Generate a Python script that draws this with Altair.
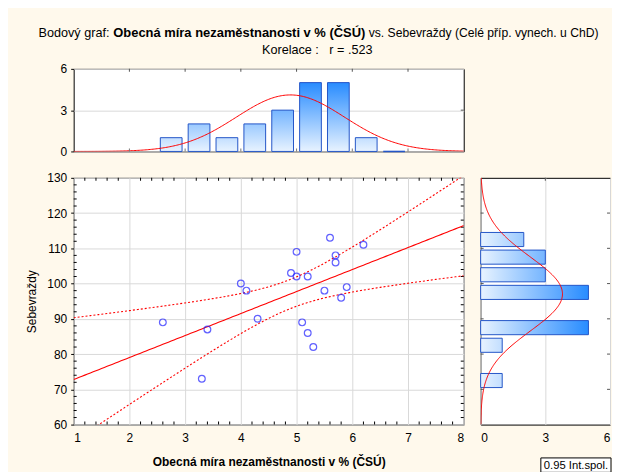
import numpy as np
import pandas as pd
import altair as alt

# ---------------- data ----------------
unemployment = [2.6, 3.3, 3.4, 4.0, 4.1, 4.3, 4.9, 5.0, 5.0, 5.1,
                5.2, 5.2, 5.3, 5.5, 5.6, 5.7, 5.7, 5.8, 5.9, 6.2]
suicides = [89, 73, 87, 100, 98, 90, 103, 109, 102, 89,
            102, 86, 82, 98, 113, 108, 106, 96, 99, 111]

x_bin_start = [2.5, 3.0, 3.5, 4.0, 4.5, 5.0, 5.5, 6.0, 6.5]
x_bin_count = [1, 2, 1, 2, 3, 5, 5, 1, 0]
y_bin_start = [70, 80, 85, 95, 100, 105, 110]
y_bin_count = [1, 1, 5, 5, 3, 3, 2]

x_ticks = [1, 2, 3, 4, 5, 6, 7, 8]
y_ticks = [60, 70, 80, 90, 100, 110, 120, 130]
hist_ticks = [0, 3, 6]
x_minor = [round(1 + 0.2 * i, 1) for i in range(1, 35) if i % 5]
y_minor = [v for v in range(62, 130, 2) if v % 10]

title_prefix = "Bodový graf: "
title_bold = "Obecná míra nezaměstnanosti v % (ČSÚ)"
title_suffix = "vs. Sebevraždy (Celé příp. vynech. u ChD)"
subtitle = "Korelace :   r = .523"
x_title = "Obecná míra nezaměstnanosti v % (ČSÚ)"
y_title = "Sebevraždy"
legend_label = "0.95 Int.spol."

# ---------------- fitted curves derived from the data ----------------
x = np.array(unemployment, dtype=float)
y = np.array(suicides, dtype=float)
n = len(x)
xm, ym = x.mean(), y.mean()
sx, sy = x.std(ddof=1), y.std(ddof=1)
sxx = ((x - xm) ** 2).sum()
b = ((x - xm) * (y - ym)).sum() / sxx
a = ym - b * xm
s = np.sqrt(((y - (a + b * x)) ** 2).sum() / (n - 2))
t975 = 2.1009

gx = np.linspace(1, 8, 141)
fit = a + b * gx
half = t975 * s * np.sqrt(1 / n + (gx - xm) ** 2 / sxx)
fit_df = pd.DataFrame({"gx": gx, "gy": fit})
band_df = pd.concat([
    pd.DataFrame({"gx": gx, "gy": fit + half, "band": "upper"}),
    pd.DataFrame({"gx": gx, "gy": fit - half, "band": "lower"}),
])

nx = np.linspace(1, 8, 281)
top_norm = pd.DataFrame({"gx": nx, "d": n * 0.5 * np.exp(-0.5 * ((nx - xm) / sx) ** 2) / (sx * np.sqrt(2 * np.pi))})
ny = np.linspace(60, 130, 281)
right_norm = pd.DataFrame({"gy": ny, "d": n * 5 * np.exp(-0.5 * ((ny - ym) / sy) ** 2) / (sy * np.sqrt(2 * np.pi))})

# ---------------- style ----------------
FONT = "Liberation Sans"
BG = "#FFF9EC"
GRID = "#D9D9D9"
RED = "#FF0000"
BAR_STROKE = "#2456C8"
LIGHT = (232, 243, 255)
DARK = (40, 140, 255)
NBSP = "\u00a0"

W, H_TOP, H, W_R = 392, 83, 248, 130


def shade(c):
    f = min(c / 5.0, 1.0)
    r, g, bb = [round(l + (d - l) * f) for l, d in zip(LIGHT, DARK)]
    return "#%02X%02X%02X" % (r, g, bb)


def grad(c, vertical):
    g = {"gradient": "linear",
         "stops": [{"offset": 0, "color": "#%02X%02X%02X" % LIGHT},
                   {"offset": 1, "color": shade(c)}]}
    if vertical:
        g.update({"x1": 0, "y1": 1, "x2": 0, "y2": 0})
    else:
        g.update({"x1": 0, "y1": 0, "x2": 1, "y2": 0})
    return g


xscale = alt.Scale(domain=[1, 8], nice=False, zero=False)
yscale = alt.Scale(domain=[60, 130], nice=False, zero=False)
hscale = alt.Scale(domain=[0, 6], nice=False)


def edge_ticks(values, channel, scale, axis, pos, color="black"):
    df = pd.DataFrame({"v": values})
    if channel == "y":
        return alt.Chart(df).mark_tick(orient="horizontal", size=3, thickness=1, color=color, opacity=1).encode(
            y=alt.Y("v:Q", scale=scale, axis=axis), x=alt.value(pos))
    return alt.Chart(df).mark_tick(orient="vertical", size=3, thickness=1, color=color, opacity=1).encode(
        x=alt.X("v:Q", scale=scale, axis=axis), y=alt.value(pos))


# ---------------- top histogram ----------------
top_x_axis = alt.Axis(values=x_ticks, labels=False, ticks=False, grid=False, title=None)
top_y_axis = alt.Axis(values=hist_ticks, grid=True, tickSize=3, labelPadding=4, title=None)

xh = pd.DataFrame({"start": x_bin_start, "n": x_bin_count})
top_base = alt.Chart(xh).transform_calculate(
    a="datum.start + 0.055", b="datum.start + 0.445", z="0")

top_layers = []
for c in sorted(set(x_bin_count)):
    if c == 0:
        top_layers.append(
            top_base.transform_filter(alt.datum.n == c).mark_rule(color=BAR_STROKE, strokeWidth=1.5).encode(
                x=alt.X("a:Q", scale=xscale, axis=top_x_axis), x2="b:Q",
                y=alt.Y("z:Q", scale=hscale, axis=top_y_axis)))
    else:
        top_layers.append(
            top_base.transform_filter(alt.datum.n == c).mark_rect(
                fill=grad(c, True), stroke=BAR_STROKE, strokeWidth=1).encode(
                x=alt.X("a:Q", scale=xscale, axis=top_x_axis), x2="b:Q",
                y=alt.Y("n:Q", scale=hscale, axis=top_y_axis), y2="z:Q"))

top_curve = alt.Chart(top_norm).mark_line(color=RED, strokeWidth=1, clip=True).encode(
    x=alt.X("gx:Q", scale=xscale, axis=top_x_axis),
    y=alt.Y("d:Q", scale=hscale, axis=top_y_axis))

top_frame_ticks = [
    edge_ticks(x_ticks[1:-1], "x", xscale, top_x_axis, 1.5, "#555555"),
    edge_ticks(x_ticks[1:-1], "x", xscale, top_x_axis, H_TOP - 1.5, "#777777"),
    edge_ticks([3], "y", hscale, top_y_axis, W - 1.5, "#555555"),
]


def txt(s, px, py, bold=False, align="left", size=12.7):
    return alt.Chart(pd.DataFrame({"t": [s.replace(" ", NBSP)]})).mark_text(
        align=align, baseline="middle", fontSize=size, font=FONT,
        fontWeight="bold" if bold else "normal", color="black").encode(
        text="t:N", x=alt.value(px), y=alt.value(py))


title_layers = [
    txt(title_prefix, -35.3, -36.3),
    txt(title_bold, 39.8, -36.3, bold=True, size=13.0),
    txt(title_suffix, 296.5, -36.3, size=12.2),
    txt(subtitle, 244.8, -19.3, align="center"),
]

top = alt.layer(*top_layers, top_curve, *top_frame_ticks, *title_layers).properties(width=W, height=H_TOP)

blank = alt.Chart(pd.DataFrame({"t": [""]})).mark_text().encode(
    text="t:N", x=alt.value(0), y=alt.value(0)).properties(
    width=W_R, height=H_TOP, view=alt.ViewBackground(fillOpacity=0, strokeOpacity=0))

# ---------------- scatter ----------------
sc_x_axis = alt.Axis(values=x_ticks, grid=True, tickSize=3, tickOpacity=0, labelPadding=5, format="d",
                     title=x_title, titleFontWeight="bold", titlePadding=13)
sc_y_axis = alt.Axis(values=y_ticks, grid=True, tickSize=3, labelPadding=4,
                     title=y_title, titleFontWeight="normal", titlePadding=8)

pts = pd.DataFrame({"x": unemployment, "y": suicides})
points = alt.Chart(pts).mark_point(shape="circle", filled=False, color="#2020FF",
                                   size=46, strokeWidth=1.2).encode(
    x=alt.X("x:Q", scale=xscale, axis=sc_x_axis),
    y=alt.Y("y:Q", scale=yscale, axis=sc_y_axis))
fit_line = alt.Chart(fit_df).mark_line(color=RED, strokeWidth=1.1, clip=True).encode(
    x=alt.X("gx:Q", scale=xscale, axis=sc_x_axis),
    y=alt.Y("gy:Q", scale=yscale, axis=sc_y_axis))
band_lines = alt.Chart(band_df).mark_line(color=RED, strokeWidth=1.1, strokeDash=[2, 2], clip=True).encode(
    x=alt.X("gx:Q", scale=xscale, axis=sc_x_axis),
    y=alt.Y("gy:Q", scale=yscale, axis=sc_y_axis),
    detail="band:N")

sc_frame_ticks = [
    edge_ticks(y_minor, "y", yscale, sc_y_axis, 1.5),
    edge_ticks(y_minor, "y", yscale, sc_y_axis, W - 1.5),
    edge_ticks(x_minor, "x", xscale, sc_x_axis, 1.5),
    edge_ticks(x_minor, "x", xscale, sc_x_axis, H - 1.5),
]

scatter = alt.layer(*sc_frame_ticks, band_lines, fit_line, points).properties(width=W, height=H)

# ---------------- right histogram ----------------
r_x_axis = alt.Axis(values=hist_ticks, grid=True, tickSize=3, tickOpacity=0, labelPadding=5, title=None)

yh = pd.DataFrame({"start": y_bin_start, "n": y_bin_count})
r_base = alt.Chart(yh).transform_calculate(a="datum.start + 0.5", b="datum.start + 4.5", z="0")
r_layers = []
for c in sorted(set(y_bin_count)):
    r_layers.append(
        r_base.transform_filter(alt.datum.n == c).mark_rect(
            fill=grad(c, False), stroke=BAR_STROKE, strokeWidth=1).encode(
            x=alt.X("n:Q", scale=hscale, axis=r_x_axis), x2="z:Q",
            y=alt.Y("a:Q", scale=yscale, axis=None), y2="b:Q"))

r_curve = alt.Chart(right_norm).mark_line(color=RED, strokeWidth=1, clip=True).encode(
    x=alt.X("d:Q", scale=hscale, axis=r_x_axis),
    y=alt.Y("gy:Q", scale=yscale, axis=None),
    order="gy:Q")

r_frame_ticks = [
    edge_ticks(y_ticks[1:-1], "y", yscale, None, 1.5, "#555555"),
    edge_ticks(y_ticks[1:-1], "y", yscale, None, W_R - 1.5, "#555555"),
    edge_ticks([3], "x", hscale, r_x_axis, 1.5, "#555555"),
]

leg_df = pd.DataFrame({"t": [legend_label]})
leg_box = alt.Chart(leg_df).mark_rect(fill="white", stroke="black", strokeWidth=1).encode(
    x=alt.value(60.5), x2=alt.value(131), y=alt.value(281.5), y2=alt.value(296))
leg_text = alt.Chart(leg_df).mark_text(align="left", baseline="middle", fontSize=11.3,
                                       font=FONT, color="black").encode(
    text="t:N", x=alt.value(63.5), y=alt.value(289.5))

right = alt.layer(*r_layers, r_curve, *r_frame_ticks, leg_box, leg_text).properties(width=W_R, height=H)

chart = alt.concat(top, blank, scatter, right, columns=2,
                   spacing={"row": 26.5, "column": 17}, bounds="flush").properties(
    background=BG,
    padding={"left": 17, "top": 17, "right": 0, "bottom": 0},
).configure_view(fill="white", stroke="black", strokeWidth=1).configure_axis(
    labelFont=FONT, titleFont=FONT, labelFontSize=12, titleFontSize=12,
    labelColor="black", titleColor="black", tickColor="black",
    domain=False, gridColor=GRID, gridWidth=1)

chart.save("out.html", embed_options={"renderer": "svg", "actions": False})
